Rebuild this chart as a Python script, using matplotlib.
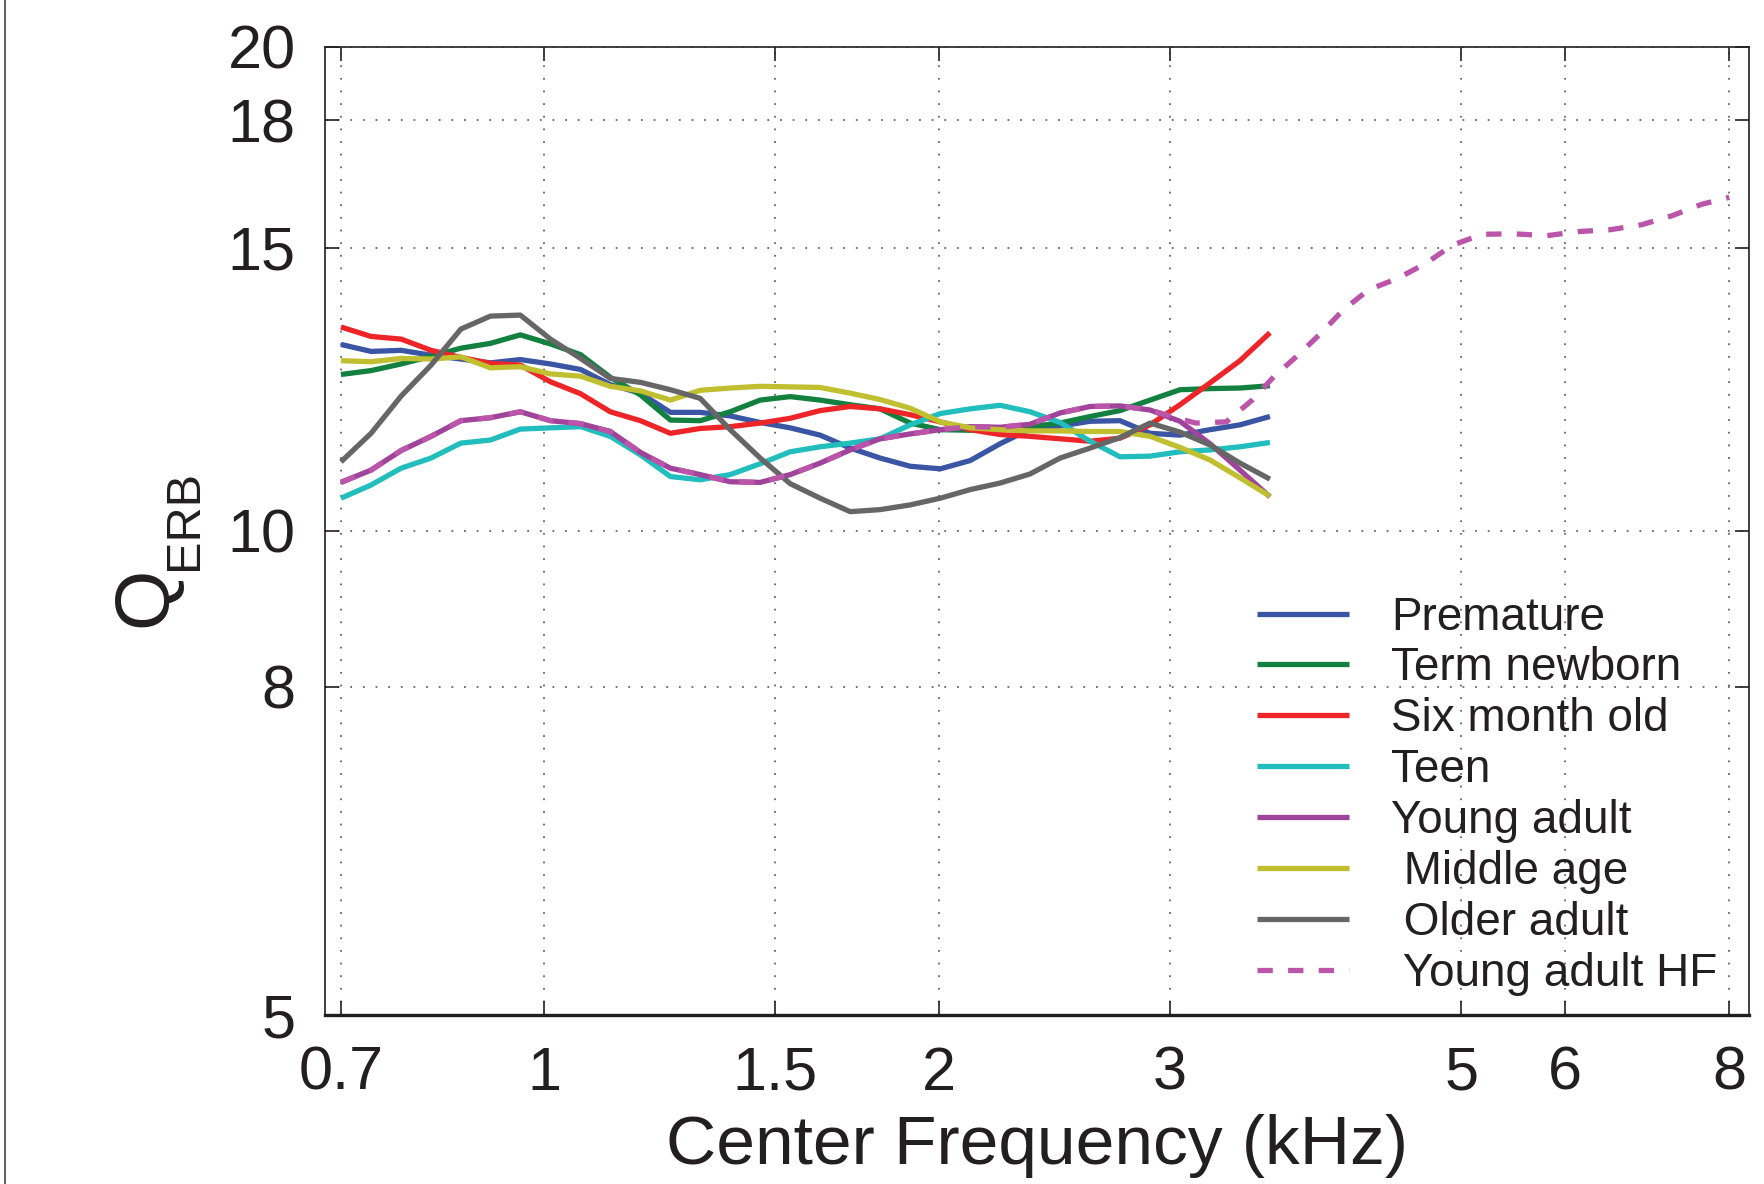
import matplotlib
matplotlib.use("Agg")
import matplotlib.pyplot as plt
from matplotlib.lines import Line2D

plt.rcParams['font.family'] = ['Liberation Sans', 'DejaVu Sans']

# center frequencies (kHz) of the sampled points
freq = [0.700, 0.738, 0.778, 0.820, 0.864, 0.910, 0.959, 1.011,
        1.066, 1.123, 1.184, 1.248, 1.315, 1.386, 1.461, 1.540,
        1.623, 1.711, 1.803, 1.901, 2.004, 2.112, 2.226, 2.346,
        2.473, 2.607, 2.747, 2.896, 3.052, 3.217, 3.391, 3.574]

premature = [13.06, 12.93, 12.95, 12.86, 12.79, 12.72, 12.78, 12.70,
             12.60, 12.33, 12.18, 11.85, 11.85, 11.79, 11.68, 11.59,
             11.47, 11.26, 11.10, 10.97, 10.93, 11.06, 11.33, 11.57,
             11.62, 11.70, 11.71, 11.50, 11.47, 11.56, 11.64, 11.78]
newborn = [12.51, 12.58, 12.70, 12.84, 12.99, 13.08, 13.24, 13.07,
           12.87, 12.46, 12.15, 11.72, 11.71, 11.86, 12.06, 12.12,
           12.06, 11.98, 11.91, 11.67, 11.56, 11.55, 11.57, 11.61,
           11.67, 11.78, 11.88, 12.06, 12.24, 12.26, 12.27, 12.31]
sixmonth = [13.39, 13.21, 13.16, 12.95, 12.82, 12.71, 12.68, 12.38,
            12.17, 11.86, 11.71, 11.50, 11.58, 11.61, 11.67, 11.75,
            11.88, 11.95, 11.91, 11.81, 11.69, 11.56, 11.48, 11.45,
            11.41, 11.37, 11.42, 11.64, 11.98, 12.36, 12.76, 13.28]
teen = [10.48, 10.68, 10.94, 11.10, 11.34, 11.39, 11.57, 11.59,
        11.61, 11.45, 11.15, 10.81, 10.76, 10.84, 11.01, 11.20,
        11.28, 11.34, 11.41, 11.64, 11.83, 11.91, 11.97, 11.86,
        11.68, 11.37, 11.12, 11.13, 11.20, 11.23, 11.28, 11.35]
young = [10.72, 10.91, 11.22, 11.45, 11.71, 11.76, 11.86, 11.71,
         11.66, 11.53, 11.19, 10.94, 10.84, 10.73, 10.72, 10.84,
         11.02, 11.23, 11.41, 11.49, 11.56, 11.61, 11.60, 11.65,
         11.84, 11.95, 11.96, 11.89, 11.70, 11.33, 10.91, 10.50]
middle = [12.76, 12.74, 12.80, 12.79, 12.83, 12.63, 12.65, 12.52,
          12.48, 12.30, 12.22, 12.06, 12.23, 12.27, 12.30, 12.29,
          12.28, 12.18, 12.07, 11.92, 11.69, 11.59, 11.56, 11.54,
          11.54, 11.53, 11.53, 11.45, 11.27, 11.07, 10.79, 10.51]
older = [11.04, 11.50, 12.13, 12.68, 13.35, 13.60, 13.62, 13.16,
         12.80, 12.44, 12.37, 12.24, 12.09, 11.56, 11.10, 10.70,
         10.48, 10.28, 10.31, 10.38, 10.48, 10.61, 10.71, 10.85,
         11.10, 11.26, 11.43, 11.67, 11.52, 11.31, 11.02, 10.77]

# young adult, high-frequency measurement (dashed)
hf_freq = freq[:28] + [3.052, 3.137, 3.311, 3.464, 3.602, 3.754, 3.912,
                       4.068, 4.249, 4.476, 4.701, 4.920, 5.189, 5.484,
                       5.812, 6.143, 6.493, 6.862, 7.236, 7.624, 8.003]
hf_q = young[:28] + [11.74, 11.67, 11.69, 12.06, 12.48, 12.86, 13.28,
                     13.73, 14.12, 14.36, 14.67, 15.05, 15.29, 15.30,
                     15.26, 15.35, 15.39, 15.50, 15.70, 15.96, 16.12]

names = ["Premature", "Term newborn", "Six month old", "Teen",
         "Young adult", " Middle age", " Older adult"]
series = [premature, newborn, sixmonth, teen, young, middle, older]
colors = ["#3a55a4", "#12803f", "#ee2528", "#22bdbd",
          "#a0439b", "#bfbf2f", "#666666"]
hf_color = "#bb55aa"

xticks = [0.7, 1, 1.5, 2, 3, 5, 6, 8]
xticklabels = ["0.7", "1", "1.5", "2", "3", "5", "6", "8"]
yticks = [5, 8, 10, 15, 18, 20]

fig = plt.figure(figsize=(17.64, 11.84), dpi=100)
ax = fig.add_axes([0.1842, 0.1425, 0.9915 - 0.1842, 0.9606 - 0.1425])

for q, c, n in zip(series, colors, names):
    ax.plot(freq, q, color=c, lw=3.8, label=n, solid_capstyle='butt')
ax.plot(hf_freq, hf_q, color=hf_color, lw=3.8, dashes=(2.9, 2.9),
        label=" Young adult HF")

ax.set_xscale('log')
ax.set_yscale('log')
ax.set_xlim(0.6806, 8.285)
ax.set_ylim(5, 20)
ax.set_xticks(xticks)
ax.set_xticklabels(xticklabels)
ax.set_yticks(yticks)
ax.set_yticklabels([str(t) for t in yticks])
ax.minorticks_off()

ax.grid(True, color='#666666', lw=1.3, linestyle=(0, (1, 6)))
ax.tick_params(direction='in', length=10, width=1.2, top=True, right=True,
               labelsize=44, colors='#231f20')
ax.tick_params(axis='x', pad=22)
ax.tick_params(axis='y', pad=21)
for s in ax.spines.values():
    s.set_linewidth(1.2)
    s.set_color('#231f20')
ax.spines['bottom'].set_linewidth(2.4)

ax.set_xlabel("Center Frequency (kHz)", fontsize=50, color='#231f20', labelpad=8)

# Q with ERB subscript as y label
fig.text(0.0941, 0.4958, "Q", fontsize=56, rotation=90, rotation_mode='anchor',
         ha='center', va='baseline', color='#231f20')
fig.text(0.1115, 0.5608, "ERB", fontsize=35, rotation=90, rotation_mode='anchor',
         ha='center', va='baseline', color='#231f20')

leg = ax.legend(loc='upper left', bbox_to_anchor=(0.7126, 0.497),
                bbox_transform=fig.transFigure, frameon=False, fontsize=33,
                handlelength=2.0, handletextpad=0.92, labelspacing=0.15,
                borderpad=0, borderaxespad=0)
for t in leg.get_texts():
    t.set_color('#231f20')

# thin border line at the left edge of the picture
fig.add_artist(Line2D([0.0026, 0.0026], [0, 1], transform=fig.transFigure,
                      color='#333333', lw=1.1))

fig.savefig("out.png", dpi=100)
